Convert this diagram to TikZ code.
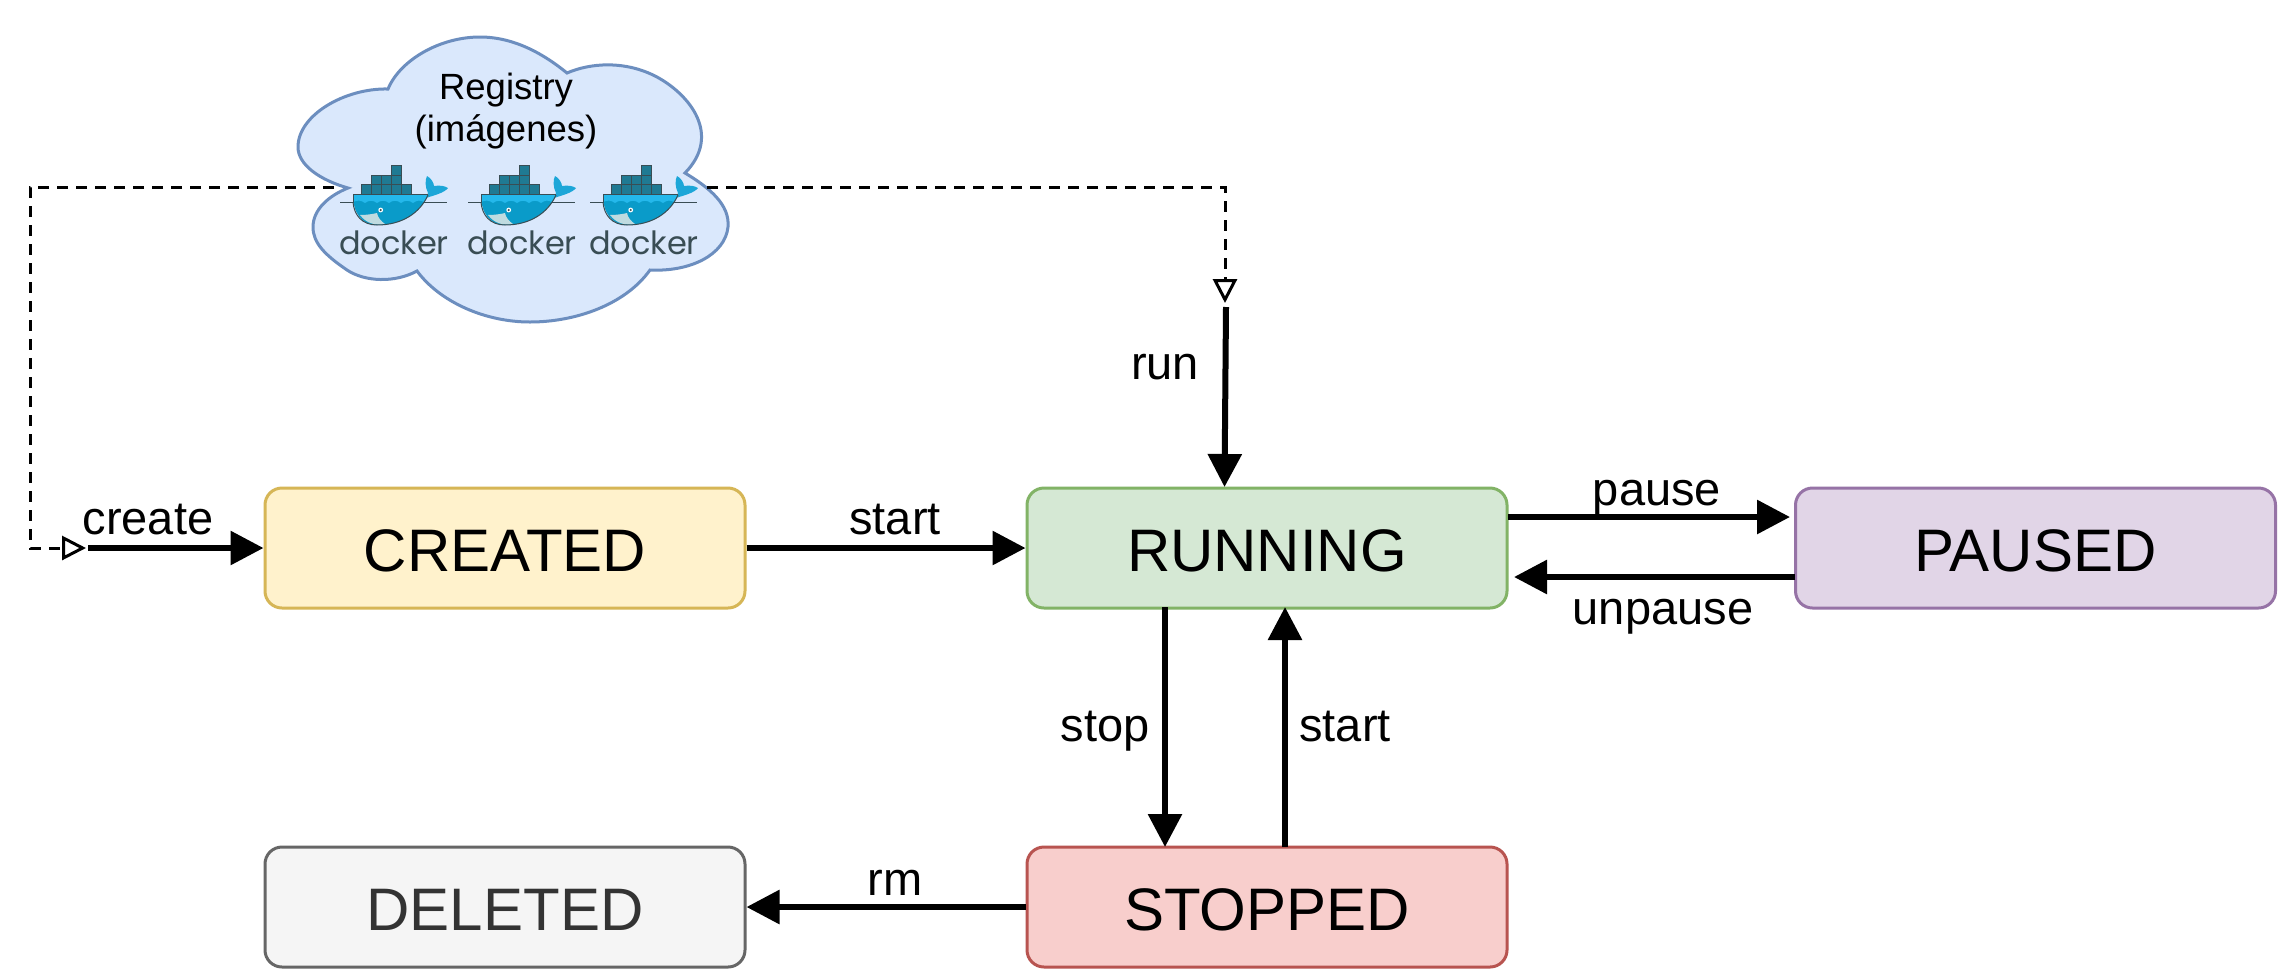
\documentclass[tikz,border=0pt]{standalone}
\usepackage{fontspec}
\setmainfont{Liberation Sans}
\newfontfamily\dockerfont{Poppins}
\usetikzlibrary{arrows.meta}
\definecolor{whaleA}{HTML}{24B8EB}
\definecolor{whaleB}{HTML}{0A9BC9}
\definecolor{whaleT}{HTML}{1CA6D8}
\definecolor{whaleD}{HTML}{BFDBE0}
\definecolor{crateA}{HTML}{1F7A93}
\definecolor{crateB}{HTML}{394D54}
\definecolor{cloudD}{HTML}{6C8EBF}\definecolor{cloudF}{HTML}{DAE8FC}
\definecolor{yelD}{HTML}{D6B656}\definecolor{yelF}{HTML}{FFF2CC}
\definecolor{grnD}{HTML}{82B366}\definecolor{grnF}{HTML}{D5E8D4}
\definecolor{purD}{HTML}{9673A6}\definecolor{purF}{HTML}{E1D5E7}
\definecolor{redD}{HTML}{B85450}\definecolor{redF}{HTML}{F8CECC}
\definecolor{gryD}{HTML}{666666}\definecolor{gryF}{HTML}{F5F5F5}\definecolor{gryT}{HTML}{333333}
\newcommand{\stxt}[1]{\raisebox{-23pt}[0pt][0pt]{#1}}
\tikzset{
  x=1pt,y=-1pt,
  statebox/.style 2 args={draw=#1,fill=#2,line width=3pt,rounded corners=17pt,minimum width=480pt,minimum height=120pt,inner sep=0pt,font=\fontsize{60}{62}\selectfont},
  thickarrow/.style={line width=6pt,-{Triangle[length=33pt,width=33pt]}},
  dashline/.style={line width=3pt,dash pattern=on 11pt off 8pt,-{Triangle[open,length=24pt,width=24pt,line width=3pt,fill=white]}},
  lab/.style={font=\fontsize{47}{49}\selectfont,inner sep=0pt,anchor=base},
  crate/.style={fill=crateA,draw=crateB,line width=1pt},
  pics/whale/.style={code={
    \draw[crateB,line width=1pt] (0,37) -- (107,37);
    \foreach \a/\b in {21.5/29,31.5/29,41.5/29,51.5/29,61.5/29,31.5/19.5,41.5/19.5,51.5/19.5,51.5/10}{
      \draw[crate] (\a,\b) rectangle ++(10,-9.5);
    }
    \fill[whaleT] (88,28) .. controls (85,22) and (85,15) .. (87,11)
       .. controls (91,13) and (94,18) .. (94,21)
       .. controls (100,20) and (105,21) .. (108,23)
       .. controls (104,28) and (95,30) .. (86,33) -- cycle;
    \fill[whaleB] (13,30) -- (88,30) .. controls (80,48) and (62,60) .. (37,60)
       .. controls (22,60) and (13,48) .. (13,30) -- cycle;
    \fill[whaleA] (13,29) -- (88,29) -- (84,37) .. controls (80,35) and (77,35) .. (73,38)
       .. controls (69,35) and (65,35) .. (61,38) .. controls (57,35) and (53,35) .. (49,38)
       .. controls (45,35) and (41,35) .. (37,38) .. controls (33,35) and (29,35) .. (25,38)
       .. controls (21,35) and (17,35) .. (13,37) -- cycle;
    \fill[whaleD] (20,50) .. controls (27,50) and (33,49) .. (37,48)
       .. controls (38,53) and (41,56) .. (45,59) .. controls (35,61) and (26,58) .. (20,50) -- cycle;
    \draw[crateB,line width=1pt] (13,37) -- (13,29) -- (88,29);
    \draw[crateB,line width=1pt] (13,37) .. controls (14,50) and (22,60) .. (37,60) .. controls (62,60) and (80,48) .. (88,30);
    \fill[white] (40.7,45) circle (2.4);
    \fill[crateB] (40.7,45) circle (1.2);
    \node[inner sep=0pt,text=crateB,font=\dockerfont\fontsize{32}{32}\selectfont,anchor=base] at (54,89) {docker};
  }},
}
\begin{document}
\begin{tikzpicture}
\useasboundingbox (0,0) rectangle (2283,978);
\fill[white] (0,0) rectangle (2283,978);
% cloud
\draw[draw=cloudD,fill=cloudF,line width=3pt]
  (388,89) .. controls (400,60) and (440,37) .. (480,37)
  .. controls (515,37) and (545,55) .. (567,73)
  .. controls (590,63) and (625,60) .. (657,77)
  .. controls (690,95) and (722,135) .. (685,173)
  .. controls (710,188) and (730,205) .. (728,227)
  .. controls (725,255) and (690,272) .. (650,270)
  .. controls (625,305) and (575,322) .. (530,322)
  .. controls (485,322) and (440,302) .. (417,271)
  .. controls (395,283) and (365,282) .. (347,270)
  .. controls (325,255) and (313,243) .. (313,227)
  .. controls (313,210) and (328,196) .. (348,188)
  .. controls (320,180) and (298,165) .. (298,147)
  .. controls (298,115) and (345,88) .. (388,89) -- cycle;
\node[inner sep=0pt,align=center,font=\fontsize{36.5}{42}\selectfont] (registry) at (506,111) {Registry\\(imágenes)};
\coordinate (cloudL) at (334,187);
\coordinate (cloudR) at (707,187);
\pic at (340,165) {whale};
\pic at (468,165) {whale};
\pic at (590,165) {whale};
% states
\node[statebox={yelD}{yelF}] (created) at (505,548) {\stxt{CREATED}};
\node[statebox={grnD}{grnF}] (running) at (1267,548) {\stxt{RUNNING}};
\node[statebox={purD}{purF}] (paused) at (2035.5,548) {\stxt{PAUSED}};
\node[statebox={redD}{redF}] (stopped) at (1267,907) {\stxt{STOPPED}};
\node[statebox={gryD}{gryF},text=gryT] (deleted) at (505,907) {\stxt{DELETED}};
% entry points
\coordinate (createStart) at (88,548);
\coordinate (runStart) at (1226,307);
\coordinate (dashLeftEnd) at (86,548);
\coordinate (dashRightEnd) at (1225,303);
% dashed
\draw[dashline] (cloudL) -| (30,548) -- (dashLeftEnd);
\draw[dashline] (cloudR) -| (dashRightEnd);
% solid
\draw[thickarrow] (createStart) -- (created.west);
\draw[thickarrow] (created.east) -- (running.west);
\draw[thickarrow] (runStart) -- (1224.5,487);
\draw[thickarrow] (1508,517) -- (1790,517);
\draw[thickarrow] (1795,577) -- (1514,577);
\draw[thickarrow] (1165,607) -- (1165,847);
\draw[thickarrow] (1285,847) -- (1285,607);
\draw[thickarrow] (stopped.west) -- (deleted.east);
% labels
\node[lab] (lcreate) at (148,534) {create};
\node[lab] (lstart) at (895,534) {start};
\node[lab] (lrun) at (1165,379) {run};
\node[lab] (lpause) at (1657,505) {pause};
\node[lab] (lunpause) at (1663,624) {unpause};
\node[lab] (lstop) at (1105,741) {stop};
\node[lab] (lstart2) at (1345,741) {start};
\node[lab] (lrm) at (895,895) {rm};
\end{tikzpicture}
\end{document}
